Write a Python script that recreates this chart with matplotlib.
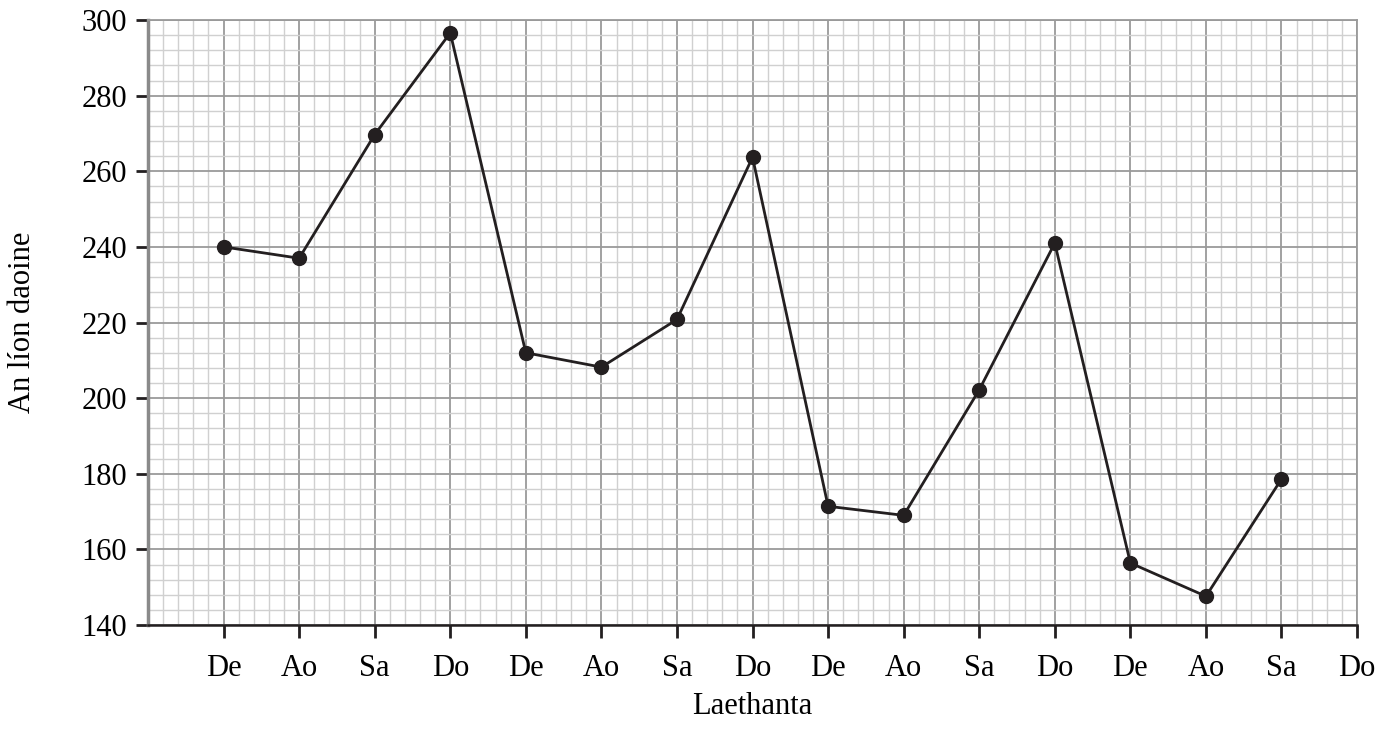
import matplotlib.pyplot as plt
from matplotlib.ticker import MultipleLocator

laethanta = ['De', 'Ao', 'Sa', 'Do'] * 4
daoine = [240, 237, 269.7, 296.6, 212, 208.2, 220.8, 263.7,
          171.4, 169, 202.2, 241, 156.4, 147.6, 178.6]

plt.rcParams['font.family'] = ['Liberation Serif', 'DejaVu Serif']

fig = plt.figure(figsize=(13.95, 7.47), dpi=100)
ax = fig.add_axes([0.1061, 0.1633, 0.8667, 0.8099])

x = range(1, len(daoine) + 1)
ax.plot(x, daoine, color='#231f20', linewidth=2.0, marker='o',
        markersize=10, zorder=5)

ax.set_xlim(0, 16)
ax.set_ylim(140, 300)
ax.set_xticks(range(1, 17))
ax.set_xticklabels(laethanta)
ax.yaxis.set_major_locator(MultipleLocator(20))
ax.xaxis.set_minor_locator(MultipleLocator(0.2))
ax.yaxis.set_minor_locator(MultipleLocator(4))
ax.tick_params(axis='both', which='major', labelsize=22, length=9,
               width=2, direction='out', color='#231f20')
ax.tick_params(axis='x', which='major', pad=12)
ax.tick_params(axis='y', which='major', pad=6)
ax.tick_params(which='minor', length=0)

ax.grid(True, which='minor', color='#d0d0d0', linewidth=1.0)
ax.grid(True, which='major', color='#9a9a9a', linewidth=1.3)
ax.set_axisbelow(True)

ax.spines['left'].set_color('#8a8a8a')
ax.spines['left'].set_linewidth(2.5)
ax.spines['bottom'].set_color('#231f20')
ax.spines['bottom'].set_linewidth(1.8)
ax.spines['top'].set_color('#9a9a9a')
ax.spines['top'].set_linewidth(1.3)
ax.spines['right'].set_color('#9a9a9a')
ax.spines['right'].set_linewidth(1.3)

ax.set_xlabel('Laethanta', fontsize=22, labelpad=6)
ax.set_ylabel('An líon daoine', fontsize=22, labelpad=32)

fig.savefig('out.png', dpi=100)
